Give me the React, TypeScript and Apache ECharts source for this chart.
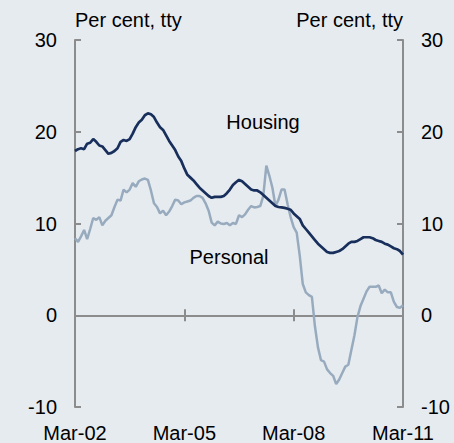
import React, { useEffect, useRef } from "react";
import * as echarts from "echarts";

const months = ["Mar", "Apr", "May", "Jun", "Jul", "Aug", "Sep", "Oct", "Nov", "Dec", "Jan", "Feb"];
const categories: string[] = [];
for (let i = 0; i <= 108; i++) {
  const mIdx = i % 12;
  const year = 2002 + Math.floor((i + 2) / 12);
  categories.push(months[mIdx] + "-" + String(year % 100).padStart(2, "0"));
}

const housing = [
  17.9, 18.1, 18.2, 18.1, 18.7, 18.8, 19.2, 18.9, 18.5, 18.4, 18.0, 17.6,
  17.7, 17.9, 18.2, 18.9, 19.1, 19.0, 19.2, 19.8, 20.5, 21.0, 21.3, 21.8,
  22.0, 21.9, 21.6, 21.0, 20.5, 20.2, 19.6, 19.0, 18.5, 18.0, 17.3, 16.8,
  16.0, 15.3, 15.0, 14.7, 14.3, 13.9, 13.6, 13.3, 13.0, 12.8, 12.9, 12.9,
  12.9, 13.0, 13.3, 13.7, 14.2, 14.5, 14.75, 14.6, 14.3, 14.0, 13.7, 13.6,
  13.6, 13.4, 13.1, 12.8, 12.5, 12.2, 11.9, 11.8, 11.75, 11.7, 11.6, 11.5,
  11.1, 10.8, 10.5, 9.8, 9.4, 9.0, 8.6, 8.2, 7.8, 7.5, 7.2, 6.9,
  6.8, 6.8, 6.9, 7.0, 7.2, 7.5, 7.8, 8.0, 8.0, 8.1, 8.3, 8.5,
  8.5, 8.5, 8.4, 8.2, 8.1, 8.0, 7.8, 7.7, 7.5, 7.3, 7.2, 7.0,
  6.6,
];

const personal = [
  8.4, 8.0, 8.6, 9.3, 8.3, 9.4, 10.6, 10.4, 10.7, 9.8, 10.3, 10.6,
  10.9, 11.8, 12.6, 12.5, 13.7, 13.4, 13.7, 14.4, 14.0, 14.6, 14.8, 14.9,
  14.75, 13.6, 12.2, 11.8, 11.1, 11.4, 10.9, 11.3, 11.9, 12.6, 12.5, 12.1,
  12.3, 12.4, 12.5, 12.8, 13.0, 13.0, 12.8, 12.2, 11.4, 10.1, 9.8, 10.2,
  10.0, 9.95, 10.05, 9.8, 10.05, 9.95, 10.9, 10.7, 11.0, 11.5, 11.9, 11.75,
  11.8, 11.9, 13.0, 16.3, 15.2, 13.9, 11.9, 12.6, 13.7, 13.7, 12.1, 10.7,
  9.6, 9.0, 6.5, 3.4, 2.5, 2.2, 2.0, -1.2, -3.5, -4.9, -5.05, -5.9,
  -6.3, -6.6, -7.5, -7.0, -6.3, -5.6, -5.4, -3.8, -2.2, -0.2, 1.0, 1.8,
  2.6, 3.1, 3.1, 3.1, 3.25, 2.4, 2.8, 2.5, 2.5, 1.45, 0.9, 0.8,
  1.1,
];

const yMin = -10;
const yMax = 30;
const yStep = 10;
const axisName = "Per cent, tty";
const seriesLabels = ["Housing", "Personal"];

const FONT = "'Liberation Sans', Arial, sans-serif";
const AXIS_COLOR = "#8c8c8c";
const BG = "#e6ebf0";

export default function App() {
  const ref = useRef<HTMLDivElement>(null);
  useEffect(() => {
    if (!ref.current) return;
    const chart = echarts.init(ref.current, undefined, { renderer: "svg" });
    const textStyle = { color: "#000", fontSize: 20, fontFamily: FONT };
    const yAxisBase = (pos: "left" | "right") => ({
      type: "value",
      position: pos,
      min: yMin,
      max: yMax,
      interval: yStep,
      name: axisName,
      nameLocation: "end",
      nameGap: 10,
      nameTextStyle: {
        ...textStyle,
        align: pos === "left" ? "left" : "right",
        verticalAlign: "bottom",
        padding: 0,
      },
      axisLine: { show: true, onZero: false, lineStyle: { color: AXIS_COLOR, width: 2 } },
      axisTick: { show: true, inside: true, length: 6, lineStyle: { color: AXIS_COLOR, width: 2 } },
      axisLabel: { ...textStyle, margin: 18 },
      splitLine: { show: false },
    });
    const xTickAxis = (pos: "top" | "bottom") => ({
      type: "category",
      data: categories,
      position: pos,
      boundaryGap: false,
      axisLine: { show: true, onZero: true, lineStyle: { color: AXIS_COLOR, width: 2 } },
      axisTick: { show: true, interval: 35, length: 6, lineStyle: { color: AXIS_COLOR, width: 2 } },
      axisLabel: { show: false },
      splitLine: { show: false },
    });
    chart.setOption({
      animation: false,
      backgroundColor: BG,
      grid: { left: 75, right: 51, top: 40, bottom: 35, containLabel: false },
      xAxis: [
        xTickAxis("bottom"),
        xTickAxis("top"),
        {
          type: "category",
          data: categories,
          position: "bottom",
          boundaryGap: false,
          axisLine: { show: false, onZero: false },
          axisTick: { show: false },
          axisLabel: { ...textStyle, interval: 35, margin: 16, showMaxLabel: true },
          splitLine: { show: false },
        },
      ],
      yAxis: [yAxisBase("left"), yAxisBase("right")],
      series: [
        {
          name: seriesLabels[1],
          type: "line",
          xAxisIndex: 0,
          yAxisIndex: 0,
          data: personal,
          showSymbol: false,
          lineStyle: { color: "#98abbe", width: 2.5 },
          z: 2,
        },
        {
          name: seriesLabels[0],
          type: "line",
          xAxisIndex: 0,
          yAxisIndex: 0,
          data: housing,
          showSymbol: false,
          lineStyle: { color: "#182f5c", width: 2.7 },
          z: 3,
        },
      ],
      graphic: [
        {
          type: "text",
          x: 263,
          y: 122,
          style: { text: seriesLabels[0], fill: "#000", font: `20px ${FONT}`, textAlign: "center", textVerticalAlign: "middle" },
        },
        {
          type: "text",
          x: 229,
          y: 257,
          style: { text: seriesLabels[1], fill: "#000", font: `20px ${FONT}`, textAlign: "center", textVerticalAlign: "middle" },
        },
      ],
    });
    return () => chart.dispose();
  }, []);
  return <div ref={ref} style={{ width: 454, height: 443, position: "fixed", left: 0, top: 0 }} />;
}
